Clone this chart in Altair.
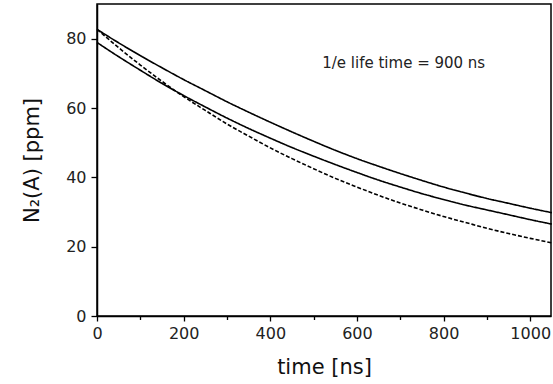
import altair as alt
import pandas as pd

time_ns = [0, 50, 100, 150, 200, 250, 300, 350, 400, 450, 500, 550,
           600, 650, 700, 750, 800, 850, 900, 950, 1000, 1050]
upper = [82.7, 78.8, 75.1, 71.6, 68.2, 65.0, 61.8, 58.8, 55.9, 53.1, 50.4, 47.8,
         45.4, 43.2, 41.1, 39.1, 37.2, 35.5, 33.9, 32.5, 31.1, 29.8]
middle = [78.9, 74.8, 70.9, 67.1, 63.6, 60.3, 57.1, 54.1, 51.3, 48.6, 46.1, 43.7,
          41.4, 39.2, 37.2, 35.3, 33.6, 32.0, 30.6, 29.2, 27.8, 26.5]
dashed = [82.7, 77.4, 72.4, 67.7, 63.3, 59.3, 55.4, 51.9, 48.5, 45.4, 42.5, 39.7,
          37.2, 34.8, 32.6, 30.6, 28.7, 27.0, 25.3, 23.8, 22.4, 21.1]

series_names = ["upper", "middle", "dashed"]
series_values = [upper, middle, dashed]

annot_x = [520]
annot_y = [73.1]
annot_text = ["1/e life time = 900 ns"]

rows = []
for name, vals in zip(series_names, series_values):
    for t, v in zip(time_ns, vals):
        rows.append({"t": t, "v": v, "series": name})
df = pd.DataFrame(rows)
ann = pd.DataFrame({"t": annot_x, "v": annot_y, "text": annot_text})

FONT = "DejaVu Sans"

x_scale = alt.Scale(domain=[0, 1048], nice=False, zero=False)
y_scale = alt.Scale(domain=[0, 90], nice=False)

x_axis = alt.Axis(
    values=list(range(0, 1001, 100)),
    labelExpr="datum.value % 200 === 0 ? datum.label : ''",
    format="d",
    title="time [ns]",
    tickSize={"condition": {"test": "datum.value % 200 !== 0", "value": 3.5}, "value": 5},
    labelFlush=False,
    labelOverlap=False,
    labelPadding=4,
    titlePadding=15,
)
y_axis = alt.Axis(
    values=list(range(0, 81, 10)),
    labelExpr="datum.value % 20 === 0 ? datum.label : ''",
    title="N₂(A) [ppm]",
    tickSize={"condition": {"test": "datum.value % 20 !== 0", "value": 3.5}, "value": 6},
    labelOverlap=False,
    labelPadding=5,
    titlePadding=23,
)

lines = alt.Chart(df).mark_line(color="black", strokeWidth=1.6, interpolate="monotone").encode(
    x=alt.X("t:Q", scale=x_scale, axis=x_axis),
    y=alt.Y("v:Q", scale=y_scale, axis=y_axis),
    strokeDash=alt.StrokeDash(
        "series:N",
        scale=alt.Scale(domain=series_names, range=[[1, 0], [1, 0], [4, 2]]),
        legend=None,
    ),
    detail="series:N",
)

text = alt.Chart(ann).mark_text(
    align="left", baseline="middle", font=FONT, fontSize=15, color="#222"
).encode(
    x=alt.X("t:Q", scale=x_scale),
    y=alt.Y("v:Q", scale=y_scale),
    text="text:N",
)

chart = (
    alt.layer(lines, text)
    .properties(
        width=454,
        height=312,
        autosize=alt.AutoSizeParams(type="none"),
        padding={"left": 97, "top": 4, "right": 2, "bottom": 68},
    )
    .configure_view(stroke="black", strokeWidth=1.5)
    .configure_axis(
        domainColor="black",
        domainWidth=1.5,
        tickColor="black",
        tickWidth=1.3,
        grid=False,
        labelFont=FONT,
        labelFontSize=16,
        labelColor="#222",
        titleFont=FONT,
        titleFontSize=21,
        titleFontWeight="normal",
        titleColor="#111",
    )
)

chart.save("out.html", embed_options={"renderer": "svg", "actions": False})
